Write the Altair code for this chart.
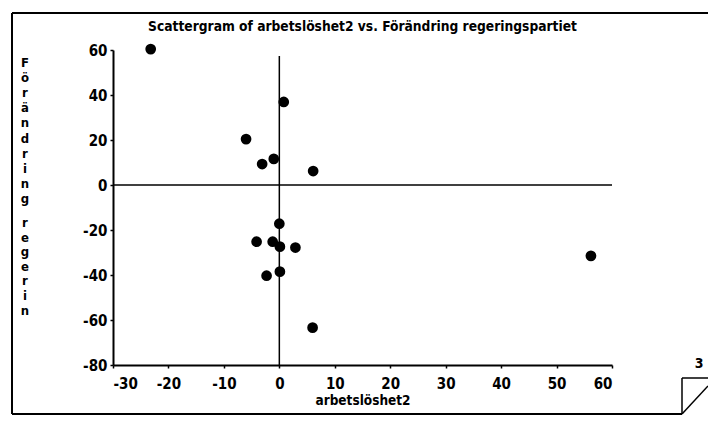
import altair as alt
import pandas as pd

# data
arbetsloshet2 = [-23.2, 0.8, -6.0, -3.1, -1.0, 6.1, 0.0, -4.1, -1.2, 0.1, 2.9, -2.3, 0.1, 6.0, 56.2]
forandring = [60.4, 36.9, 20.4, 9.3, 11.6, 6.2, -17.2, -25.2, -25.2, -27.4, -27.8, -40.3, -38.5, -63.4, -31.5]

x_ticks = list(range(-30, 61, 5))
y_ticks = list(range(-80, 61, 20))

title_text = "Scattergram of arbetslöshet2 vs. Förändring regeringspartiet"
x_title = "arbetslöshet2"
y_title_1 = list("Förändring")
y_title_2 = list("regerin")

FONT = "DejaVu Sans Condensed"
W, H = 499, 315

df = pd.DataFrame({"x": arbetsloshet2, "y": forandring})

xscale = alt.Scale(domain=[-30, 60], nice=False, zero=False)
yscale = alt.Scale(domain=[-80, 60], nice=False, zero=False)

points = alt.Chart(df).mark_circle(size=115, color="black", opacity=1).encode(
    x=alt.X("x:Q", scale=xscale,
            axis=alt.Axis(title=x_title, values=x_ticks,
                          labelExpr="datum.value % 10 == 0 ? '' + datum.value : ''",
                          grid=False, domainColor="black", domainWidth=2,
                          tickColor="black", tickWidth=1.5, tickSize=3,
                          labelFont=FONT, labelFontSize=15, labelFontWeight="bold",
                          labelColor="black", labelPadding=8,
                          titleFont=FONT, titleFontSize=13.5, titleFontWeight="bold",
                          titleColor="black", titlePadding=2)),
    y=alt.Y("y:Q", scale=yscale,
            axis=alt.Axis(title=None, values=y_ticks, grid=False,
                          labelExpr="'' + datum.value",
                          domainColor="black", domainWidth=2,
                          tickColor="black", tickWidth=1.5, tickSize=3,
                          labelFont=FONT, labelFontSize=15, labelFontWeight="bold",
                          labelColor="black", labelPadding=3)),
)

zero_df = pd.DataFrame({"v": [0]})
hline = alt.Chart(zero_df).mark_rule(color="black", strokeWidth=1.5).encode(
    y=alt.Y("v:Q", scale=yscale), x=alt.value(0), x2=alt.value(W))
vline = alt.Chart(zero_df).mark_rule(color="black", strokeWidth=1.5).encode(
    x=alt.X("v:Q", scale=xscale), y=alt.value(6), y2=alt.value(H))

# titles as text marks
title_mark = alt.Chart(zero_df).mark_text(
    text=title_text, font=FONT, fontSize=13.7, fontWeight="bold", color="black",
    baseline="alphabetic", align="center").encode(x=alt.value(W / 2), y=alt.value(-19))
ytitle_a = alt.Chart(zero_df).mark_text(
    text=y_title_1, font=FONT, fontSize=13, fontWeight="bold", color="black",
    baseline="alphabetic", align="center", lineHeight=15.1).encode(
    x=alt.value(-88), y=alt.value(17))
ytitle_b = alt.Chart(zero_df).mark_text(
    text=y_title_2, font=FONT, fontSize=13, fontWeight="bold", color="black",
    baseline="alphabetic", align="center", lineHeight=14.6).encode(
    x=alt.value(-88), y=alt.value(177))

# decorative frame and page-corner glyph
frame_top = alt.Chart(zero_df).mark_rule(color="black", strokeWidth=2).encode(
    x=alt.value(-101), x2=alt.value(595), y=alt.value(-37))
frame_left = alt.Chart(zero_df).mark_rule(color="black", strokeWidth=2).encode(
    x=alt.value(-101), y=alt.value(-37), y2=alt.value(364))
frame_bottom = alt.Chart(zero_df).mark_rule(color="black", strokeWidth=2).encode(
    x=alt.value(-101), x2=alt.value(569), y=alt.value(364))
corner_top = alt.Chart(zero_df).mark_rule(color="black", strokeWidth=1.5).encode(
    x=alt.value(569), x2=alt.value(595), y=alt.value(328))
corner_left = alt.Chart(zero_df).mark_rule(color="black", strokeWidth=1.5).encode(
    x=alt.value(569), y=alt.value(328), y2=alt.value(364))
corner_diag = alt.Chart(zero_df).mark_rule(color="black", strokeWidth=1.5).encode(
    x=alt.value(569), y=alt.value(364), x2=alt.value(595), y2=alt.value(336))
corner_num = alt.Chart(zero_df).mark_text(text="3", font=FONT, fontSize=14,
                                          fontWeight="bold", color="black",
                                          baseline="middle").encode(
    x=alt.value(586), y=alt.value(314))

chart = alt.layer(
    frame_top, frame_left, frame_bottom, corner_top, corner_left, corner_diag, corner_num,
    title_mark, ytitle_a, ytitle_b, hline, vline, points
).properties(
    width=W, height=H,
    background="white",
    autosize=alt.AutoSizeParams(type="none"),
    padding={"left": 105, "top": 42, "right": 96, "bottom": 50},
).configure_view(stroke=None)

chart.save("out.html", embed_options={"renderer": "svg", "actions": False})
